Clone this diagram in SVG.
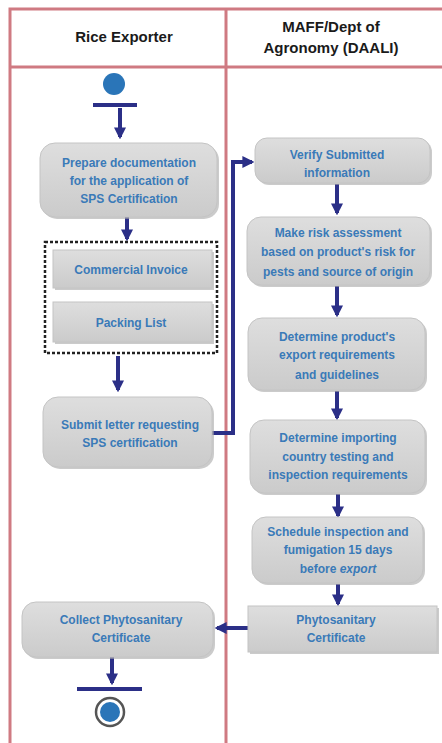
<svg xmlns="http://www.w3.org/2000/svg" width="442" height="743" viewBox="0 0 442 743">
<style>
.lane{fill:none;stroke:#cf7a82;stroke-width:3}
.box{fill:url(#g);stroke:#c4c4c4;stroke-width:1}
.sh{fill:#a9a9a9;opacity:0.6}
.t{font-family:"Liberation Sans",Arial,sans-serif;font-weight:bold;font-size:12px;fill:#3a7ab8;text-anchor:middle}
.h{font-family:"Liberation Sans",Arial,sans-serif;font-weight:bold;font-size:15px;fill:#1a1a1a;text-anchor:middle}
.c{fill:none;stroke:#2b2f87;stroke-width:4}
</style>
<defs>
<linearGradient id="g" x1="0" y1="0" x2="0" y2="1">
<stop offset="0" stop-color="#dedede"/><stop offset="1" stop-color="#cbcbcb"/>
</linearGradient>
<marker id="ah" viewBox="0 0 10 10" refX="8" refY="5" markerWidth="3" markerHeight="3" orient="auto">
<path d="M0,0 L10,5 L0,10 z" fill="#2b2f87"/>
</marker>
</defs>
<rect width="442" height="743" fill="#ffffff"/>
<g id="lanes">
<path class="lane" d="M10,743 V9 H442 M10,67 H442 M226,9 V743"/>
<text class="h" x="124" y="42">Rice Exporter</text>
<text class="h" x="331" y="32">MAFF/Dept of</text>
<text class="h" x="331" y="53">Agronomy (DAALI)</text>
</g>
<g id="connectors">
<path class="c" d="M120,108 V137" marker-end="url(#ah)"/>
<path class="c" d="M127,217 V239" marker-end="url(#ah)"/>
<path class="c" d="M118,356 V390" marker-end="url(#ah)"/>
<path class="c" d="M212,433 H233 V162 H252" marker-end="url(#ah)"/>
<path class="c" d="M337,184 V213" marker-end="url(#ah)"/>
<path class="c" d="M337,286 V315" marker-end="url(#ah)"/>
<path class="c" d="M337,391 V418" marker-end="url(#ah)"/>
<path class="c" d="M338,494 V516" marker-end="url(#ah)"/>
<path class="c" d="M338,584 V604" marker-end="url(#ah)"/>
<path class="c" d="M248,628 H217" marker-end="url(#ah)"/>
<path class="c" d="M112,657 V683" marker-end="url(#ah)"/>
</g>
<g id="start">
<circle cx="114" cy="84" r="11" fill="#2a75b8"/>
<rect x="93" y="103" width="44" height="4" fill="#2b2f87"/>
</g>
<g id="prepare">
<rect class="sh" x="42" y="145" width="177" height="74" rx="15"/>
<rect class="box" x="40" y="143" width="177" height="74" rx="15"/>
<text class="t" x="129" y="167">Prepare documentation</text>
<text class="t" x="129" y="185">for the application of</text>
<text class="t" x="129" y="203">SPS Certification</text>
</g>
<g id="documents">
<rect x="45" y="242" width="172" height="111" fill="none" stroke="#222" stroke-width="2.5" stroke-dasharray="3,2"/>
<rect class="sh" x="55" y="252" width="159" height="38"/>
<rect class="box" x="53" y="250" width="159" height="38"/>
<text class="t" x="131" y="274">Commercial Invoice</text>
<rect class="sh" x="55" y="304" width="159" height="40"/>
<rect class="box" x="53" y="302" width="159" height="40"/>
<text class="t" x="131" y="327">Packing List</text>
</g>
<g id="submit">
<rect class="sh" x="45" y="399" width="169" height="70" rx="15"/>
<rect class="box" x="43" y="397" width="169" height="70" rx="15"/>
<text class="t" x="130" y="429">Submit letter requesting</text>
<text class="t" x="130" y="447">SPS certification</text>
</g>
<g id="verify">
<rect class="sh" x="257" y="140" width="175" height="45" rx="12"/>
<rect class="box" x="255" y="138" width="175" height="45" rx="12"/>
<text class="t" x="337" y="159">Verify Submitted</text>
<text class="t" x="337" y="177">information</text>
</g>
<g id="risk">
<rect class="sh" x="249" y="219" width="183" height="68" rx="14"/>
<rect class="box" x="247" y="217" width="183" height="68" rx="14"/>
<text class="t" x="338" y="237">Make risk assessment</text>
<text class="t" x="338" y="256">based on product's risk for</text>
<text class="t" x="338" y="276">pests and source of origin</text>
</g>
<g id="determine-product">
<rect class="sh" x="250" y="320" width="177" height="72" rx="14"/>
<rect class="box" x="248" y="318" width="177" height="72" rx="14"/>
<text class="t" x="337" y="341">Determine product's</text>
<text class="t" x="337" y="359">export requirements</text>
<text class="t" x="337" y="379">and guidelines</text>
</g>
<g id="determine-importing">
<rect class="sh" x="252" y="422" width="175" height="73" rx="14"/>
<rect class="box" x="250" y="420" width="175" height="73" rx="14"/>
<text class="t" x="338" y="442">Determine importing</text>
<text class="t" x="338" y="461">country testing and</text>
<text class="t" x="338" y="479">inspection requirements</text>
</g>
<g id="schedule">
<rect class="sh" x="254" y="519" width="171" height="66" rx="14"/>
<rect class="box" x="252" y="517" width="171" height="66" rx="14"/>
<text class="t" x="338" y="536">Schedule inspection and</text>
<text class="t" x="338" y="554">fumigation 15 days</text>
<text class="t" x="338" y="573">before <tspan font-style="italic">export</tspan></text>
</g>
<g id="phyto">
<rect class="sh" x="250" y="608" width="189" height="46"/>
<rect class="box" x="248" y="606" width="189" height="46"/>
<text class="t" x="336" y="624">Phytosanitary</text>
<text class="t" x="336" y="642">Certificate</text>
</g>
<g id="collect">
<rect class="sh" x="24" y="604" width="191" height="55" rx="14"/>
<rect class="box" x="22" y="602" width="191" height="55" rx="14"/>
<text class="t" x="121" y="624">Collect Phytosanitary</text>
<text class="t" x="121" y="642">Certificate</text>
</g>
<g id="end">
<rect x="77" y="687" width="65" height="4" fill="#2b2f87"/>
<circle cx="110" cy="712" r="14" fill="#ffffff" stroke="#555" stroke-width="2.5"/>
<circle cx="110" cy="712" r="10" fill="#2a75b8"/>
</g>
</svg>
